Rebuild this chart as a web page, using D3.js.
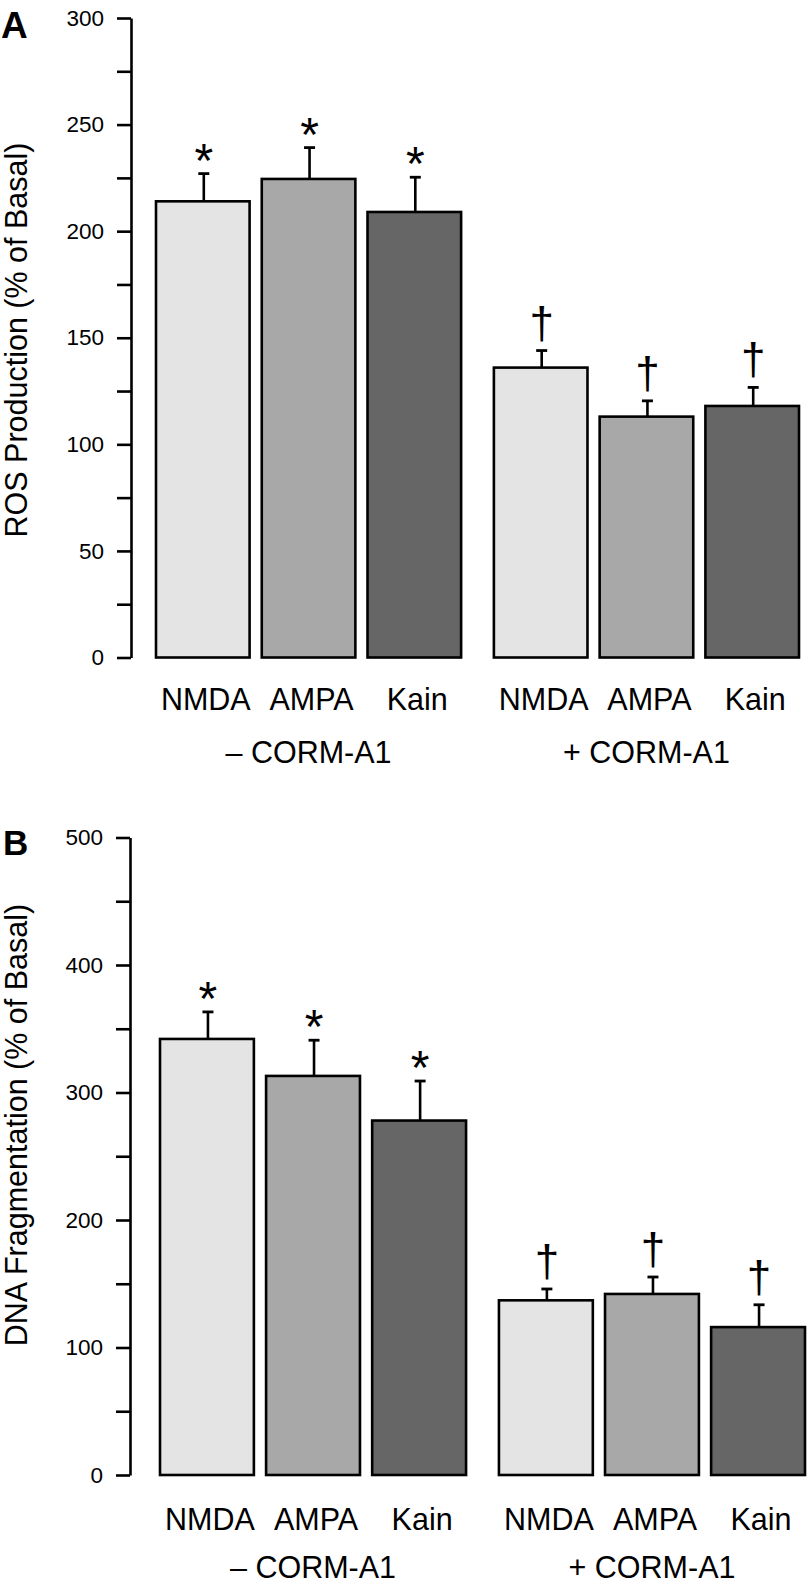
<!DOCTYPE html>
<html>
<head>
<meta charset="utf-8">
<script src="https://cdn.jsdelivr.net/npm/d3@7"></script>
<style>
  html, body { margin: 0; padding: 0; background: #fff; }
  svg { display: block; }
  text { font-family: "Liberation Sans", Arial, Helvetica, sans-serif; fill: #000; }
</style>
</head>
<body>
<svg id="chart" width="808" height="1585"></svg>
<script>
// ---------- data ----------
const categories = ["NMDA", "AMPA", "Kain"];
const groups = ["\u2013 CORM-A1", "+ CORM-A1"];
const barColors = ["#e4e4e4", "#a8a8a8", "#666666"];

// Panel A: ROS production (% of basal)
const rosMean = [214, 224.5, 209, 136, 113, 118];
const rosErr  = [13, 14.7, 16.3, 8, 7.4, 8.7];
const rosMarks = ["*", "*", "*", "\u2020", "\u2020", "\u2020"];
const rosTicks = [0, 25, 50, 75, 100, 125, 150, 175, 200, 225, 250, 275, 300];
const rosTickLabels = ["0", "", "50", "", "100", "", "150", "", "200", "", "250", "", "300"];

// Panel B: DNA fragmentation (% of basal)
const dnaMean = [342, 313, 278, 137, 142, 116];
const dnaErr  = [21.2, 28, 31, 8.9, 13.3, 17.5];
const dnaMarks = ["*", "*", "*", "\u2020", "\u2020", "\u2020"];
const dnaTicks = [0, 50, 100, 150, 200, 250, 300, 350, 400, 450, 500];
const dnaTickLabels = ["0", "", "100", "", "200", "", "300", "", "400", "", "500"];

const svg = d3.select("#chart");

function panel(cfg) {
  const g = svg.append("g");
  const y = d3.scaleLinear().domain(cfg.domain).range([cfg.y0, cfg.y1]);
  const xOuter = d3.scaleBand().domain(groups).range(cfg.xRange).paddingInner(0.097).paddingOuter(0);
  const xInner = d3.scaleBand().domain(categories).range([0, xOuter.bandwidth()]).paddingInner(0.115).paddingOuter(0);

  const rows = [];
  groups.forEach((gr, gi) => categories.forEach((c, ci) => {
    const i = gi * categories.length + ci;
    rows.push({ group: gr, cat: c, ci, mean: cfg.mean[i], err: cfg.err[i], mark: cfg.marks[i] });
  }));
  const bx = d => xOuter(d.group) + xInner(d.cat);
  const cx = d => bx(d) + xInner.bandwidth() / 2;

  // axis
  const axis = d3.axisLeft(y)
    .tickValues(cfg.ticks)
    .tickFormat((d, i) => cfg.tickLabels[i])
    .tickSize(14).tickSizeOuter(0).tickPadding(13);
  const ax = g.append("g").attr("transform", `translate(${cfg.axisX},0)`).call(axis);
  ax.select(".domain").attr("stroke", "#000").attr("stroke-width", 2.6);
  ax.selectAll(".tick line").attr("stroke", "#000").attr("stroke-width", 2.6);
  ax.selectAll(".tick text").attr("font-size", 22.5).attr("fill", "#000")
    .attr("font-family", "'Liberation Sans', Arial, sans-serif");

  // error bars
  g.selectAll(".eb").data(rows).join("line")
    .attr("x1", d => cx(d) + 1).attr("x2", d => cx(d) + 1)
    .attr("y1", d => y(d.mean)).attr("y2", d => y(d.mean + d.err))
    .attr("stroke", "#000").attr("stroke-width", 2.6);
  g.selectAll(".cap").data(rows).join("line")
    .attr("x1", d => cx(d) - 4.5).attr("x2", d => cx(d) + 6.5)
    .attr("y1", d => y(d.mean + d.err)).attr("y2", d => y(d.mean + d.err))
    .attr("stroke", "#000").attr("stroke-width", 2.8);

  // bars
  g.selectAll(".bar").data(rows).join("rect")
    .attr("x", bx).attr("width", xInner.bandwidth())
    .attr("y", d => y(d.mean)).attr("height", d => y(0) - y(d.mean))
    .attr("fill", d => barColors[d.ci])
    .attr("stroke", "#000").attr("stroke-width", 2.6);

  // significance marks
  g.selectAll(".mark").data(rows).join("text")
    .attr("x", d => cx(d) + 1)
    .attr("y", d => y(d.mean + d.err) + (d.mark === "*" ? 3 : -13))
    .attr("text-anchor", "middle")
    .attr("font-family", "'Liberation Serif', 'Times New Roman', serif")
    .attr("font-size", d => d.mark === "*" ? 48 : 44)
    .text(d => d.mark);

  // category labels
  g.selectAll(".cat").data(rows).join("text")
    .attr("x", d => cx(d) + 3)
    .attr("y", y(0) + cfg.catDy)
    .attr("text-anchor", "middle")
    .attr("font-size", 30.5)
    .text(d => d.cat);

  // group labels
  g.selectAll(".grp").data(groups).join("text")
    .attr("x", d => xOuter(d) + xOuter.bandwidth() / 2)
    .attr("y", y(0) + cfg.catDy + cfg.grpDy)
    .attr("text-anchor", "middle")
    .attr("font-size", 30.5)
    .text(d => d);

  // y title
  g.append("text")
    .attr("transform", `translate(27,${cfg.titleY}) rotate(-90)`)
    .attr("text-anchor", "middle")
    .attr("font-size", 30.5)
    .text(cfg.title);

  // panel letter
  g.append("text")
    .attr("x", cfg.letterX).attr("y", cfg.letterY)
    .attr("font-size", cfg.letterSize).attr("font-weight", "bold")
    .text(cfg.letter);
}

panel({
  domain: [0, 300], y0: 657.5, y1: 18, axisX: 131, xRange: [156, 799],
  mean: rosMean, err: rosErr, marks: rosMarks, ticks: rosTicks, tickLabels: rosTickLabels,
  catDy: 52.5, grpDy: 53, title: "ROS Production (% of Basal)", titleY: 340,
  letter: "A", letterX: 1, letterY: 38, letterSize: 37
});

panel({
  domain: [0, 500], y0: 1475, y1: 837.5, axisX: 130, xRange: [160, 805],
  mean: dnaMean, err: dnaErr, marks: dnaMarks, ticks: dnaTicks, tickLabels: dnaTickLabels,
  catDy: 55, grpDy: 48, title: "DNA Fragmentation (% of Basal)", titleY: 1125,
  letter: "B", letterX: 3, letterY: 855, letterSize: 35
});
</script>
</body>
</html>
